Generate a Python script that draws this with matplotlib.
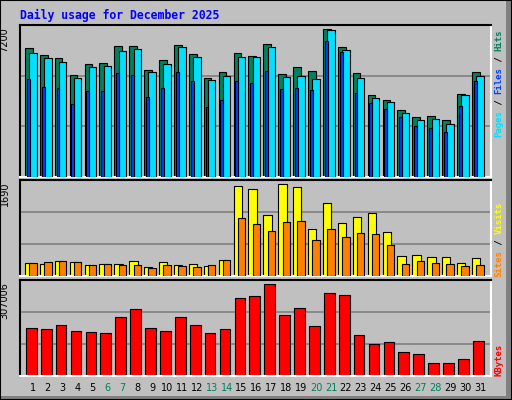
import numpy as np
import matplotlib
matplotlib.use("Agg")
import matplotlib.pyplot as plt
from matplotlib.patches import Rectangle

# ---- data ----
days = np.arange(1, 32)
hits = [6092, 5760, 5618, 4811, 5333, 5380, 6187, 6187, 5048, 5523, 6235, 5808, 4668, 4953, 5855,
        5713, 6282, 4858, 5190, 5000, 6994, 6140, 4905, 3861, 3624, 3196, 2864, 2911, 2721, 3909, 4953]
pages = [5855, 5618, 5428, 4668, 5190, 5238, 5950, 6045, 4953, 5333, 6140, 5665, 4573, 4763, 5665,
         5665, 6140, 4716, 4763, 4621, 6947, 5997, 4668, 3719, 3576, 3054, 2722, 2769, 2532, 3861, 4763]
files = [4620, 4241, 4193, 3481, 4067, 4067, 4905, 4811, 3766, 4193, 4953, 4526, 3339, 3671, 4526,
         4431, 5000, 4146, 4193, 4098, 6424, 5902, 3956, 3528, 3244, 2864, 2437, 2342, 2152, 3386, 4526]
visits = [229, 211, 264, 246, 194, 211, 211, 264, 158, 246, 194, 211, 176, 282, 1584,
          1532, 1074, 1620, 1567, 827, 1285, 933, 1039, 1109, 775, 352, 370, 334, 334, 229, 317]
sites = [229, 246, 264, 246, 194, 211, 194, 194, 141, 194, 176, 158, 194, 282, 1021,
         915, 792, 951, 968, 634, 827, 687, 757, 739, 546, 211, 264, 229, 211, 176, 194]
kbytes = [152430, 149210, 162090, 142770, 139550, 136330, 187850, 213620, 152430, 142770, 187850,
          162090, 136330, 149210, 249040, 255480, 294120, 194290, 216840, 158870, 265140, 258700,
          129890, 100900, 107340, 75140, 68700, 39720, 39720, 52600, 110560]
weekend = [6, 7, 13, 14, 20, 21, 27, 28]
max_hits, max_visits, max_kb = 7200, 1690, 307006

BG = "#c0c0c0"
C_HITS, C_FILES, C_PAGES = "#00805c", "#0040ff", "#00e0ff"
C_VIS, C_SITE, C_KB = "#ffff00", "#ff8000", "#ff0000"
MONO = "DejaVu Sans Mono"

fig = plt.figure(figsize=(5.12, 4.0), dpi=100)
fig.patch.set_facecolor(BG)
# 3D-ish frame
fig.add_artist(Rectangle((0.988, 0.0), 0.012, 1.0, transform=fig.transFigure, fc="#808080", ec="none"))
fig.add_artist(Rectangle((0.0, 0.0), 1.0, 0.01, transform=fig.transFigure, fc="#808080", ec="none"))
fig.add_artist(Rectangle((0, 0), 1, 1, transform=fig.transFigure, fill=False, ec="black", lw=1.5))

fig.text(20 / 512, 1 - 15 / 400, "Daily usage for December 2025", color="#0000ff",
         family=MONO, fontweight="bold", fontsize=8.3, va="center", ha="left")

L, W = 20 / 512, 470.7 / 512
axT = fig.add_axes([L, 0.5575, W, 0.38])
axM = fig.add_axes([L, 0.309, W, 0.24])
axB = fig.add_axes([L, 0.061, W, 0.2385])

def style(ax, top, label):
    ax.set_facecolor(BG)
    ax.set_xlim(0.13, 31.72); ax.set_ylim(0, top)
    for y in (top / 3, 2 * top / 3):
        ax.axhline(y, color="#808080", lw=1.2, zorder=0)
    ax.set_yticks([]); ax.set_xticks([])
    for s in ("left", "top"):
        ax.spines[s].set_color("black")
    for s in ("right", "bottom"):
        ax.spines[s].set_color("white")
    for s in ax.spines.values():
        s.set_linewidth(1.5)
    ax.text(-0.022, 0.985, label, transform=ax.transAxes, rotation=90, ha="right", va="top",
            fontsize=7, family="DejaVu Sans")

kw = dict(edgecolor="black", linewidth=0.8)
style(axT, max_hits, str(max_hits))
axT.bar(days - 0.28, hits, width=0.52, color=C_HITS, zorder=2, **kw)
axT.bar(days, pages, width=0.5, color=C_PAGES, zorder=3, **kw)
axT.bar(days - 0.32, files, width=0.2, color=C_FILES, zorder=4, **kw)

style(axM, max_visits, str(max_visits))
axM.bar(days - 0.26, visits, width=0.56, color=C_VIS, zorder=2, **kw)
axM.bar(days, sites, width=0.5, color=C_SITE, zorder=3, **kw)

style(axB, max_kb, str(max_kb))
axB.bar(days - 0.11, kbytes, width=0.72, color=C_KB, zorder=2, **kw)

for d in days:
    axB.text(d, -0.13, str(d), transform=axB.get_xaxis_transform(), ha="center", va="center",
             fontsize=7, color=C_HITS if d in weekend else "black")

# right-side coloured legends, stacked bottom-to-top
def side_label(parts, y_bottom_px):
    step = 5.4
    y = y_bottom_px
    for txt, col in parts:
        fig.text(499 / 512, 1 - y / 400, txt, rotation=90, color=col, family=MONO,
                 fontsize=6.5, fontweight="bold", ha="center", va="bottom")
        y -= step * len(txt)

side_label([("Pages", C_PAGES), (" / ", "black"), ("Files", C_FILES), (" / ", "black"),
            ("Hits", C_HITS)], 137)
side_label([("Sites", C_SITE), (" / ", "black"), ("Visits", C_VIS)], 277)
side_label([("KBytes", C_KB)], 376)

fig.savefig("out.png", dpi=100, facecolor=BG)
